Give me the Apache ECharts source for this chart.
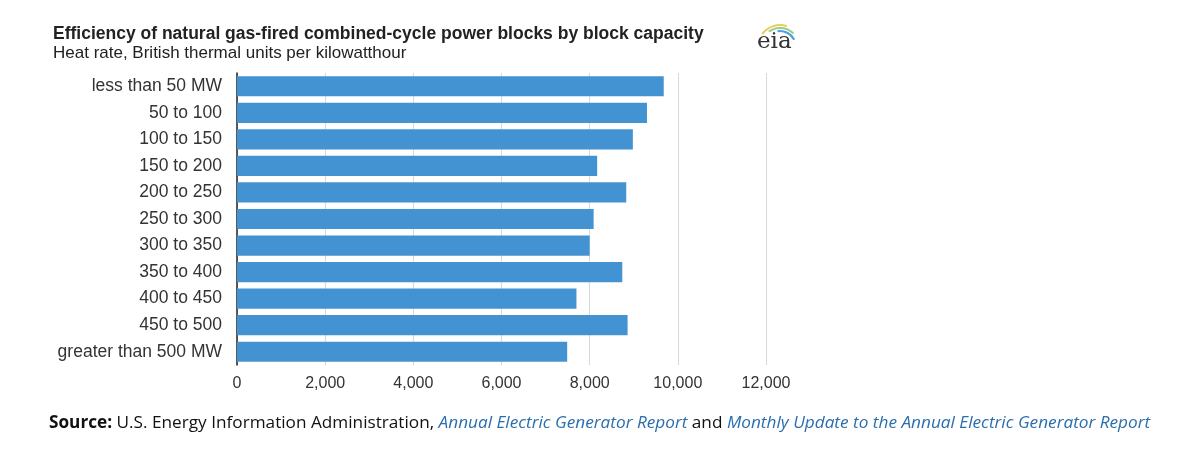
<!DOCTYPE html>
<html>
<head>
<meta charset="utf-8">
<script src="https://cdn.jsdelivr.net/npm/echarts@6/dist/echarts.min.js"></script>
<style>
  html, body { margin: 0; padding: 0; background: #fff; }
  #container { width: 1200px; height: 457px; }
</style>
</head>
<body>
<div id="container"></div>
<script>
// block capacity classes, top to bottom as shown
var categories = ['less than 50 MW', '50 to 100', '100 to 150', '150 to 200', '200 to 250',
  '250 to 300', '300 to 350', '350 to 400', '400 to 450', '450 to 500', 'greater than 500 MW'];
// heat rate, Btu/kWh
var heatRate = [9680, 9300, 8980, 8170, 8830, 8090, 8000, 8740, 7700, 8860, 7490];
var xTicks = [0, 2000, 4000, 6000, 8000, 10000, 12000];

var dom = document.getElementById('container');
var myChart = echarts.init(dom);
var option = {
  backgroundColor: '#fff',
  animation: false,
  title: [
    {
      text: 'Efficiency of natural gas-fired combined-cycle power blocks by block capacity',
      left: 48, top: 20,
      textStyle: { fontFamily: 'Liberation Sans', fontSize: 17.5, fontWeight: 'bold', color: '#222' }
    },
    {
      text: 'Heat rate, British thermal units per kilowatthour',
      left: 48, top: 40,
      textStyle: { fontFamily: 'Liberation Sans', fontSize: 17, fontWeight: 'normal', color: '#222' }
    }
  ],
  grid: { left: 237, right: 434, top: 73, bottom: 92 },
  xAxis: {
    type: 'value',
    min: xTicks[0],
    max: xTicks[xTicks.length - 1],
    interval: 2000,
    axisLine: { show: false },
    axisTick: { show: false },
    splitLine: { lineStyle: { color: '#d9d9d9', width: 1 } },
    axisLabel: {
      margin: 11,
      fontFamily: 'Liberation Sans', fontSize: 16, color: '#333',
      formatter: function (v) { return v.toLocaleString('en-US'); }
    }
  },
  yAxis: {
    type: 'category',
    data: categories,
    inverse: true,
    axisLine: { show: true, lineStyle: { color: '#222', width: 1.5 } },
    axisTick: { show: false },
    axisLabel: { margin: 15, fontFamily: 'Liberation Sans', fontSize: 17.5, color: '#333' }
  },
  series: [
    {
      type: 'bar',
      data: heatRate,
      barCategoryGap: '24%',
      itemStyle: { color: '#4393d3' }
    }
  ],
  graphic: [
    {
      type: 'text',
      left: 49, top: 415,
      style: {
        text: '{b|Source:} U.S. Energy Information Administration, {l|Annual Electric Generator Report} and {l|Monthly Update to the Annual Electric Generator Report}',
        font: '17.2px "Open Sans"',
        fill: '#111',
        rich: {
          b: { fontWeight: 'bold', fontSize: 17.2, fontFamily: 'Open Sans', fill: '#111' },
          l: { fontStyle: 'italic', fontSize: 17.2, fontFamily: 'Open Sans', fill: '#2a6eae' }
        }
      }
    },
    // eia logo
    {
      type: 'text',
      left: 757, top: 31,
      style: { text: 'eia', font: '23px "DejaVu Serif"', fill: '#333' }
    },
    {
      type: 'arc',
      shape: { cx: 780, cy: 47, r: 22, startAngle: Math.PI * 1.2, endAngle: Math.PI * 1.6 },
      style: { stroke: '#e8cd5a', lineWidth: 2, fill: null }
    },
    {
      type: 'arc',
      shape: { cx: 780, cy: 47, r: 19, startAngle: Math.PI * 1.3, endAngle: Math.PI * 1.75 },
      style: { stroke: '#9ccc8a', lineWidth: 2, fill: null }
    },
    {
      type: 'arc',
      shape: { cx: 780, cy: 47, r: 16, startAngle: Math.PI * 1.45, endAngle: Math.PI * 1.85 },
      style: { stroke: '#4aa0d8', lineWidth: 2, fill: null }
    }
  ]
};
myChart.setOption(option, true);
</script>
</body>
</html>
